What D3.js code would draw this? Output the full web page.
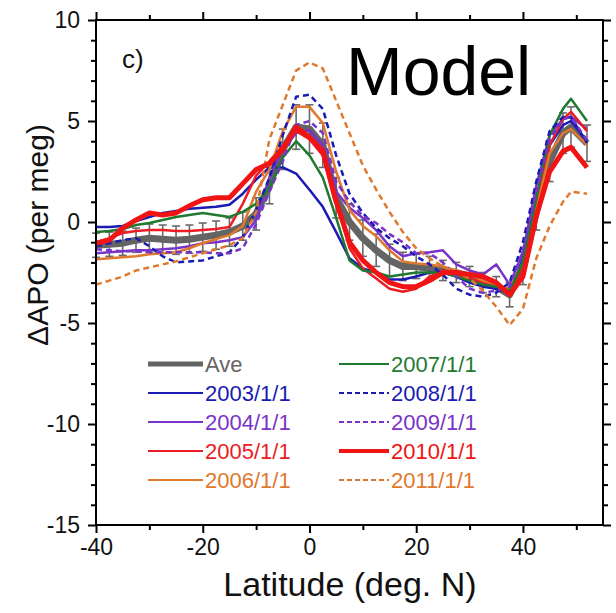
<!DOCTYPE html>
<html>
<head>
<meta charset="utf-8">
<script src="https://cdn.jsdelivr.net/npm/d3@7/dist/d3.min.js"></script>
<style>
  body { margin: 0; background: #fff; }
  text { font-family: "Liberation Sans", Arial, sans-serif; }
</style>
</head>
<body>
<svg id="chart" width="616" height="613"></svg>
<script>
// latitude grid (deg N)
const lat = [-40, -37.5, -35, -32.5, -30, -27.5, -25, -22.5, -20, -17.5, -15, -12.5, -10, -7.5, -5, -2.5,
  0, 2.5, 5, 7.5, 10, 12.5, 15, 17.5, 20, 22.5, 25, 27.5, 30, 32.5, 35, 37.5, 40, 42.5, 45, 47.5, 49, 52];

const ave = [-1.15, -1.1, -1.05, -0.9, -0.8, -0.85, -0.9, -0.85, -0.75, -0.65, -0.5, -0.2, 0.4, 1.8, 3.6, 4.7,
  4.6, 3.8, 1.2, 0, -0.8, -1.4, -1.9, -2.2, -2.2, -2.3, -2.4, -2.5, -2.7, -3.0, -3.2, -3.6, -2.3, 0.5, 3.0, 4.4, 4.7, 3.9];
const aveErr = [0.6, 0.6, 0.6, 0.6, 0.7, 0.7, 0.7, 0.7, 0.7, 0.7, 0.7, 0.7, 0.8, 0.9, 1.0, 1.1,
  1.2, 1.1, 1.0, 0.9, 0.9, 0.8, 0.8, 0.7, 0.6, 0.6, 0.5, 0.5, 0.5, 0.5, 0.5, 0.6, 0.8, 0.9, 1.0, 1.0, 1.0, 0.9];

const v2003 = [-0.25, -0.25, -0.2, 0.05, 0.25, 0.45, 0.55, 0.65, 0.7, 0.75, 0.85, 1.4, 2.1, 2.7, 2.7, 2.4,
  1.6, 0.75, -0.5, -1.8, -2.3, -2.5, -2.85, -2.85, -2.7, -2.5, -2.5, -2.7, -3.0, -3.2, -3.3, -3.5, -1.8, 1.0, 3.8, 4.8, 5.0, 4.0];
const v2004 = [-1.55, -1.5, -1.45, -1.4, -1.4, -1.35, -1.3, -1.2, -1.05, -1.0, -0.9, -0.75, 0.1, 2.2, 3.6, 4.4,
  4.55, 3.8, 1.5, 0.7, 0.2, -0.4, -1.2, -1.7, -1.55, -1.5, -1.4, -2.1, -2.4, -2.6, -2.1, -3.1, -1.5, 1.8, 4.3, 5.1, 5.2, 4.6];
const v2005 = [-1.0, -0.8, -0.55, -0.45, -0.4, -0.4, -0.45, -0.45, -0.4, -0.35, -0.25, 0.9, 2.3, 3.0, 3.8, 4.5,
  4.1, 3.3, 1.0, -1.3, -2.3, -2.8, -3.3, -3.45, -3.3, -2.7, -2.4, -2.6, -2.8, -3.0, -3.2, -3.4, -2.3, 0.8, 3.8, 5.1, 5.45, 4.5];
const v2006 = [-1.85, -1.8, -1.75, -1.7, -1.6, -1.55, -1.5, -1.3, -1.05, -0.85, -0.65, -0.2, 1.5, 2.6, 4.5, 5.7,
  5.7, 4.9, 2.5, 0.6, -0.2, -0.7, -1.4, -1.95, -2.05, -2.1, -2.2, -2.4, -2.6, -2.9, -3.1, -3.3, -2.0, 0.6, 3.4, 4.4, 4.6, 3.8];
const v2007 = [-0.5, -0.45, -0.35, -0.15, -0.05, 0.1, 0.25, 0.35, 0.45, 0.35, 0.25, 0.5, 0.9, 1.7, 3.2, 4.0,
  3.3, 2.2, 0.2, -1.9, -2.4, -2.5, -2.7, -2.6, -2.5, -2.5, -2.5, -2.7, -2.9, -3.1, -3.2, -3.4, -2.0, 1.2, 4.3, 5.6, 6.1, 5.0];
const v2008 = [-1.2, -1.05, -0.9, -0.8, -1.2, -1.7, -2.0, -1.95, -1.9, -1.7, -1.5, -0.75, 0.6, 2.2, 4.3, 6.2,
  6.3, 5.6, 3.3, 1.4, 0.45, -0.3, -0.8, -1.2, -1.7, -2.1, -2.6, -3.3, -3.6, -3.7, -3.5, -3.0, -1.0, 2.0, 4.5, 5.2, 5.2, 3.9];
const v2009 = [-1.35, -1.4, -1.45, -1.45, -1.5, -1.5, -1.5, -1.5, -1.5, -1.55, -1.55, -1.3, -0.1, 1.5, 3.0, 4.8,
  5.0, 4.4, 2.0, 1.0, 0.3, -0.05, -0.6, -1.0, -1.55, -1.55, -2.0, -2.7, -3.3, -3.5, -3.4, -3.2, -1.4, 1.5, 4.1, 5.1, 5.2, 4.05];
const v2010 = [-1.05, -0.9, -0.3, 0.1, 0.45, 0.35, 0.45, 0.8, 1.1, 1.2, 1.2, 1.9, 2.6, 2.9, 3.6, 4.7,
  4.2, 3.5, 1.0, -1.0, -1.9, -2.5, -3.0, -3.2, -3.2, -2.9, -2.5, -2.5, -2.6, -2.7, -3.0, -3.6, -2.7, 0.3, 2.5, 3.5, 3.7, 2.7];
const v2011 = [-3.1, -2.9, -2.7, -2.4, -2.25, -2.1, -1.95, -1.75, -1.55, -1.35, -1.15, -0.8, 0.5, 4.1, 5.8, 7.5,
  7.9, 7.6, 6.0, 4.4, 2.8, 1.6, 0.5, -0.5, -1.3, -1.8, -2.2, -2.5, -2.8, -3.4, -4.2, -5.1, -4.3, -1.8, -0.2, 1.0, 1.5, 1.4];

const xTicks = [-40, -20, 0, 20, 40];
const xMinor = [-30, -10, 10, 30, 50];
const yTicks = [-15, -10, -5, 0, 5, 10];

// drawing styles, one per series
const styles = [
  { name: "2003/1/1", data: v2003, color: "#1a1ab4", width: 2.5, dash: null },
  { name: "2004/1/1", data: v2004, color: "#7834c8", width: 2.5, dash: null },
  { name: "2005/1/1", data: v2005, color: "#ec1c24", width: 2.5, dash: null },
  { name: "2006/1/1", data: v2006, color: "#e0782e", width: 2.5, dash: null },
  { name: "2007/1/1", data: v2007, color: "#1f7a30", width: 2.5, dash: null },
  { name: "2008/1/1", data: v2008, color: "#1a1ab4", width: 2.5, dash: "6,4" },
  { name: "2009/1/1", data: v2009, color: "#7834c8", width: 2.5, dash: "6,4" },
  { name: "2011/1/1", data: v2011, color: "#e0782e", width: 2.5, dash: "6,4" },
  { name: "2010/1/1", data: v2010, color: "#f01414", width: 5, dash: null }
];

const svg = d3.select("#chart");
const x = d3.scaleLinear().domain([-40, 55]).range([96, 603]);
const y = d3.scaleLinear().domain([-15, 10]).range([525, 20]);

const line = d3.line()
  .x(d => x(d[0]))
  .y(d => y(d[1]));

// average with error bars
const gAve = svg.append("g");
const avePts = lat.map((l, i) => [l, ave[i], aveErr[i]]);
gAve.selectAll("line.err")
  .data(avePts)
  .join("line")
  .attr("class", "err")
  .attr("x1", d => x(d[0])).attr("x2", d => x(d[0]))
  .attr("y1", d => y(d[1] - d[2])).attr("y2", d => y(d[1] + d[2]))
  .attr("stroke", "#6a6a6a").attr("stroke-width", 1.6);
gAve.selectAll("line.cap")
  .data(avePts.flatMap(d => [[d[0], d[1] + d[2]], [d[0], d[1] - d[2]]]))
  .join("line")
  .attr("class", "cap")
  .attr("x1", d => x(d[0]) - 4).attr("x2", d => x(d[0]) + 4)
  .attr("y1", d => y(d[1])).attr("y2", d => y(d[1]))
  .attr("stroke", "#6a6a6a").attr("stroke-width", 1.6);
gAve.append("path")
  .attr("d", line(lat.map((l, i) => [l, ave[i]])))
  .attr("fill", "none")
  .attr("stroke", "#646464")
  .attr("stroke-width", 7)
  .attr("stroke-linejoin", "round");

svg.append("g").selectAll("path")
  .data(styles)
  .join("path")
  .attr("d", s => line(lat.map((l, i) => [l, s.data[i]])))
  .attr("fill", "none")
  .attr("stroke", s => s.color)
  .attr("stroke-width", s => s.width)
  .attr("stroke-dasharray", s => s.dash)
  .attr("stroke-linejoin", "round");

// axes
const plain = d => String(d);
function styleAxis(g) {
  g.select(".domain").remove();
  g.selectAll(".tick line").attr("stroke", "#000").attr("stroke-width", 2);
  g.selectAll(".tick text").attr("font-size", 23).attr("fill", "#111")
    .attr("font-family", "Liberation Sans, Arial, sans-serif");
}
const yMinor = d3.range(-15, 11, 1).filter(v => v % 5 !== 0);

svg.append("g").attr("transform", "translate(0,525)")
  .call(d3.axisBottom(x).tickValues(xTicks).tickSize(8).tickPadding(6).tickFormat(plain)).call(styleAxis);
svg.append("g").attr("transform", "translate(0,525)")
  .call(d3.axisBottom(x).tickValues(xMinor).tickSize(5).tickFormat("")).call(styleAxis);
svg.append("g").attr("transform", "translate(0,20)")
  .call(d3.axisTop(x).tickValues(xTicks).tickSize(8).tickFormat("")).call(styleAxis);
svg.append("g").attr("transform", "translate(0,20)")
  .call(d3.axisTop(x).tickValues(xMinor).tickSize(5).tickFormat("")).call(styleAxis);
svg.append("g").attr("transform", "translate(96,0)")
  .call(d3.axisLeft(y).tickValues(yTicks).tickSize(8).tickPadding(8).tickFormat(plain)).call(styleAxis);
svg.append("g").attr("transform", "translate(96,0)")
  .call(d3.axisLeft(y).tickValues(yMinor).tickSize(5).tickFormat("")).call(styleAxis);
svg.append("g").attr("transform", "translate(603,0)")
  .call(d3.axisRight(y).tickValues(yTicks).tickSize(8).tickFormat("")).call(styleAxis);
svg.append("g").attr("transform", "translate(603,0)")
  .call(d3.axisRight(y).tickValues(yMinor).tickSize(5).tickFormat("")).call(styleAxis);

svg.append("rect")
  .attr("x", 96).attr("y", 20).attr("width", 507).attr("height", 505)
  .attr("fill", "none").attr("stroke", "#000").attr("stroke-width", 2);

// axis titles
svg.append("text")
  .attr("x", 350).attr("y", 596)
  .attr("text-anchor", "middle")
  .attr("font-size", 34).attr("fill", "#111")
  .text("Latitude (deg. N)");
svg.append("text")
  .attr("transform", "translate(48,235) rotate(-90)")
  .attr("text-anchor", "middle")
  .attr("font-size", 30).attr("fill", "#111")
  .text("ΔAPO (per meg)");

svg.append("text").attr("x", 122).attr("y", 68)
  .attr("font-size", 26).attr("fill", "#111").text("c)");
svg.append("text").attr("x", 346).attr("y", 95)
  .attr("font-family", "Open Sans, Noto Sans, sans-serif")
  .attr("font-size", 68).attr("fill", "#000").text("Model");

// legend
const legendItems = [{ name: "Ave", color: "#646464", width: 7, dash: null }].concat(styles.slice(0, 4),
  [styles[4], styles[5], styles[6], styles[8], styles[7]]);
const leg = svg.append("g");
legendItems.forEach((s, i) => {
  const col = i < 5 ? 0 : 1;
  const row = i % 5;
  const lx = col === 0 ? 148 : 339;
  const ly = 364 + row * 29;
  const lw = col === 0 ? 55 : 50;
  leg.append("line")
    .attr("x1", lx).attr("x2", lx + lw)
    .attr("y1", ly).attr("y2", ly)
    .attr("stroke", s.color)
    .attr("stroke-width", s.width === 5 ? 4 : (s.width === 7 ? 5 : 2))
    .attr("stroke-dasharray", s.dash ? "5,3" : null);
  leg.append("text")
    .attr("x", lx + lw + 2).attr("y", ly + 8)
    .attr("font-size", 22)
    .attr("fill", s.color)
    .text(s.name);
});
</script>
</body>
</html>
